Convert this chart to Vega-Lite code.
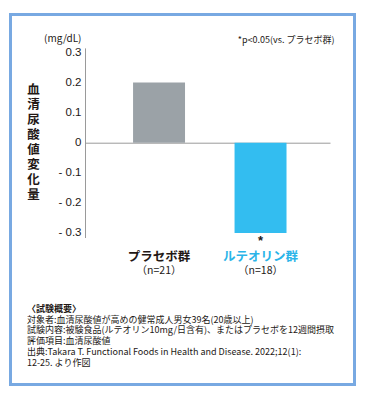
{
  "$schema": "https://vega.github.io/schema/vega-lite/v6.json",
  "width": 344,
  "height": 370,
  "autosize": {"type": "none"},
  "padding": {"left": 10.5, "top": 14.5, "right": 19.5, "bottom": 19.5},
  "background": "white",
  "config": {
    "view": {"stroke": "#78a9e2", "strokeWidth": 3},
    "font": "Noto Sans CJK JP"
  },
  "title": {
    "text": "〈試験概要〉",
    "subtitle": [
      "対象者:血清尿酸値が高めの健常成人男女39名(20歳以上)",
      "試験内容:被験食品(ルテオリン10mg/日含有)、またはプラセボを12週間摂取",
      "評価項目:血清尿酸値",
      "出典:Takara T. Functional Foods in Health and Disease. 2022;12(1):",
      "12-25. より作図"
    ],
    "orient": "bottom",
    "anchor": "start",
    "frame": "group",
    "offset": -80,
    "dx": 16.5,
    "font": "Noto Sans CJK JP",
    "fontSize": 9,
    "fontWeight": "bold",
    "color": "#231815",
    "subtitleFont": "Noto Sans CJK JP",
    "subtitleFontSize": 9,
    "subtitleFontWeight": "normal",
    "subtitleColor": "#231815",
    "subtitleLineHeight": 10.9,
    "subtitlePadding": 2
  },
  "data": {
    "values": [
      {"group": "プラセボ群", "n": "（n=21）", "value": 0.2, "sig": ""},
      {"group": "ルテオリン群", "n": "（n=18）", "value": -0.3, "sig": "*"}
    ]
  },
  "resolve": {"scale": {"color": "independent"}, "axis": {"y": "independent"}},
  "layer": [
    {
      "mark": {"type": "bar"},
      "encoding": {
        "x": {
          "field": "group",
          "type": "nominal",
          "sort": ["プラセボ群", "ルテオリン群"],
          "scale": {"domain": ["プラセボ群", "ルテオリン群"], "range": [74.5, 319.5], "paddingInner": 0.488, "paddingOuter": 0.451, "align": 0.525},
          "axis": {
            "orient": "top",
            "offset": -128.2,
            "labels": false,
            "ticks": false,
            "domain": true,
            "domainColor": "#9a9a9a",
            "domainWidth": 1,
            "grid": false,
            "title": "*p<0.05(vs. プラセボ群)",
            "titleX": 323.5,
            "titleY": -103.7,
            "titleAlign": "right",
            "titleAnchor": null,
            "titleBaseline": "middle",
            "titleFont": "Noto Sans CJK JP",
            "titleFontSize": 9,
            "titleFontWeight": "normal",
            "titleColor": "#231815"
          }
        },
        "y": {
          "field": "value",
          "type": "quantitative",
          "scale": {"domain": [-0.315, 0.315], "range": [223, 33.4], "nice": false, "zero": false},
          "axis": {
            "orient": "left",
            "offset": -74.5,
            "values": [-0.3, -0.2, -0.1, 0, 0.1, 0.2, 0.3],
            "labelExpr": "datum.value < 0 ? '- ' + format(-datum.value, '.1f') : (datum.value == 0 ? '0' : format(datum.value, '.1f'))",
            "labelFont": "Liberation Sans",
            "labelFontSize": 11.5,
            "labelColor": "#231815",
            "labelPadding": 4,
            "labelOverlap": false,
            "labelBound": false,
            "labelFlush": false,
            "ticks": false,
            "grid": false,
            "domain": true,
            "domainColor": "#9a9a9a",
            "domainWidth": 1,
            "title": ["血", "清", "尿", "酸", "値", "変", "化", "量"],
            "titleAngle": 0,
            "titleX": -52,
            "titleY": 75,
            "titleAlign": "center",
            "titleBaseline": "middle",
            "titleFont": "Noto Sans CJK JP",
            "titleFontSize": 12.5,
            "titleFontWeight": "bold",
            "titleLineHeight": 15,
            "titleColor": "#231815"
          }
        },
        "color": {
          "field": "group",
          "type": "nominal",
          "scale": {"domain": ["プラセボ群", "ルテオリン群"], "range": ["#9ba2a7", "#33bdf0"]},
          "legend": null
        }
      }
    },
    {
      "mark": {"type": "text", "font": "Noto Sans CJK JP", "fontSize": 12.5, "fontWeight": "bold", "baseline": "middle"},
      "encoding": {
        "x": {"field": "group", "type": "nominal"},
        "y": {
          "datum": -0.38,
          "axis": {
            "orient": "left",
            "offset": -74.5,
            "labels": false,
            "ticks": false,
            "domain": false,
            "grid": false,
            "title": "(mg/dL)",
            "titleAngle": 0,
            "titleX": -4,
            "titleY": 24,
            "titleAlign": "right",
            "titleBaseline": "middle",
            "titleFont": "Noto Sans CJK JP",
            "titleFontSize": 10,
            "titleFontWeight": "normal",
            "titleColor": "#231815"
          }
        },
        "text": {"field": "group"},
        "color": {
          "field": "group",
          "type": "nominal",
          "scale": {"domain": ["プラセボ群", "ルテオリン群"], "range": ["#231815", "#2ab4e8"]},
          "legend": null
        }
      }
    },
    {
      "mark": {"type": "text", "font": "Noto Sans CJK JP", "fontSize": 10.5, "baseline": "middle", "color": "#231815"},
      "encoding": {
        "x": {"field": "group", "type": "nominal"},
        "y": {"datum": -0.425, "axis": null},
        "text": {"field": "n"}
      }
    },
    {
      "mark": {"type": "text", "font": "Liberation Sans", "fontSize": 13, "fontWeight": "bold", "baseline": "middle", "color": "#231815"},
      "encoding": {
        "x": {"field": "group", "type": "nominal"},
        "y": {"datum": -0.328, "axis": null},
        "text": {"field": "sig"}
      }
    }
  ]
}
